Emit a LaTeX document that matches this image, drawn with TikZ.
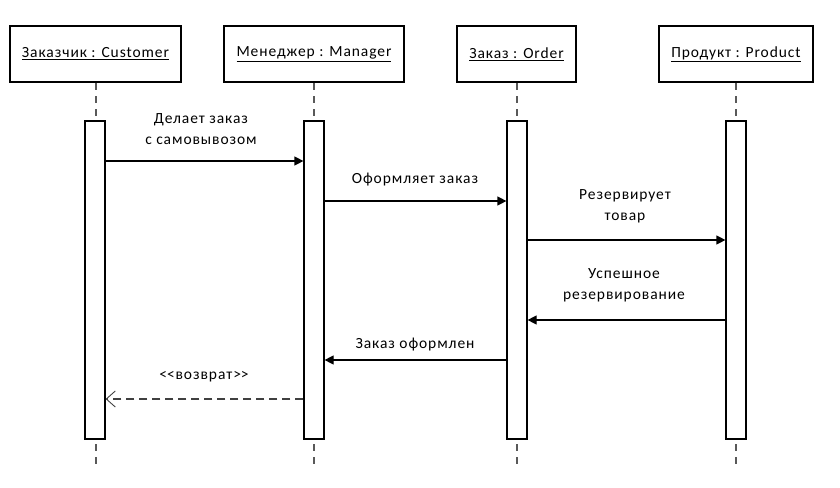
\documentclass[tikz,border=0pt]{standalone}
\usepackage{fontspec}
\setmainfont{Carlito}[LetterSpace=6]
\usetikzlibrary{arrows.meta}
\tikzset{hd/.style = {rectangle, line width=1.2pt, minimum height=56pt, inner sep=0pt, draw, font=\fontsize{15.5}{17}\selectfont},
           bar/.style = {rectangle, line width=1.2pt, minimum width=20pt, minimum height=318pt, inner sep=0pt, draw, fill=white},
           ll/.style = {line width=2pt, draw=black!65, dash pattern=on 7pt off 6pt},
           msg/.style = {line width=1.2pt, -{Triangle[length=9pt,width=9pt]}},
           ret/.style = {line width=1.2pt, dash pattern=on 8pt off 5pt, draw=black!75, -{Straight Barb[length=9pt,width=16pt,line width=0.9pt]}},
           lb/.style = {font=\fontsize{15.5}{21}\selectfont, align=center, inner sep=0pt}}
\begin{document}
\begin{tikzpicture}[x=1pt, y=-1pt]
    \useasboundingbox (0,0) rectangle (840,487);
    \node[hd, minimum width=171pt] (c) at (95.5,54) {\underline{Заказчик : Customer}};
    \node[hd, minimum width=180pt] (m) at (314,54) {\underline{Менеджер : Manager}};
    \node[hd, minimum width=119pt] (o) at (516.5,54) {\underline{Заказ : Order}};
    \node[hd, minimum width=154pt] (p) at (736,54) {\underline{Продукт : Product}};
    % lifelines
    \draw[ll] (96,83) -- (96,121) (96,444) -- (96,466);
    \draw[ll] (314,83) -- (314,121) (314,444) -- (314,466);
    \draw[ll] (517,83) -- (517,121) (517,444) -- (517,466);
    \draw[ll] (736,83) -- (736,121) (736,444) -- (736,466);
    \node[bar] (bc) at (95,280) {};
    \node[bar] (bm) at (314,280) {};
    \node[bar] (bo) at (517,280) {};
    \node[bar] (bp) at (736,280) {};
    % messages
    \draw[msg] (bc.east |- 0,161) -- (bm.west |- 0,161);
    \draw[msg] (bm.east |- 0,201) -- (bo.west |- 0,201);
    \draw[msg] (bo.east |- 0,240) -- (bp.west |- 0,240);
    \draw[msg] (bp.west |- 0,320) -- (bo.east |- 0,320);
    \draw[msg] (bo.west |- 0,360) -- (bm.east |- 0,360);
    \draw[ret] (bm.west |- 0,399) -- (bc.east |- 0,399);
    \node[lb] (l1) at (201,129) {Делает заказ\\с самовывозом};
    \node[lb] (l2) at (415,180) {Оформляет заказ};
    \node[lb] (l3) at (625,206) {Резервирует\\товар};
    \node[lb] (l4) at (624,285) {Успешное\\резервирование};
    \node[lb] (l5) at (415,345) {Заказ оформлен};
    \node[lb] (l6) at (204,377) {<\kern0pt<возврат>\kern0pt>};
\end{tikzpicture}
\end{document}
